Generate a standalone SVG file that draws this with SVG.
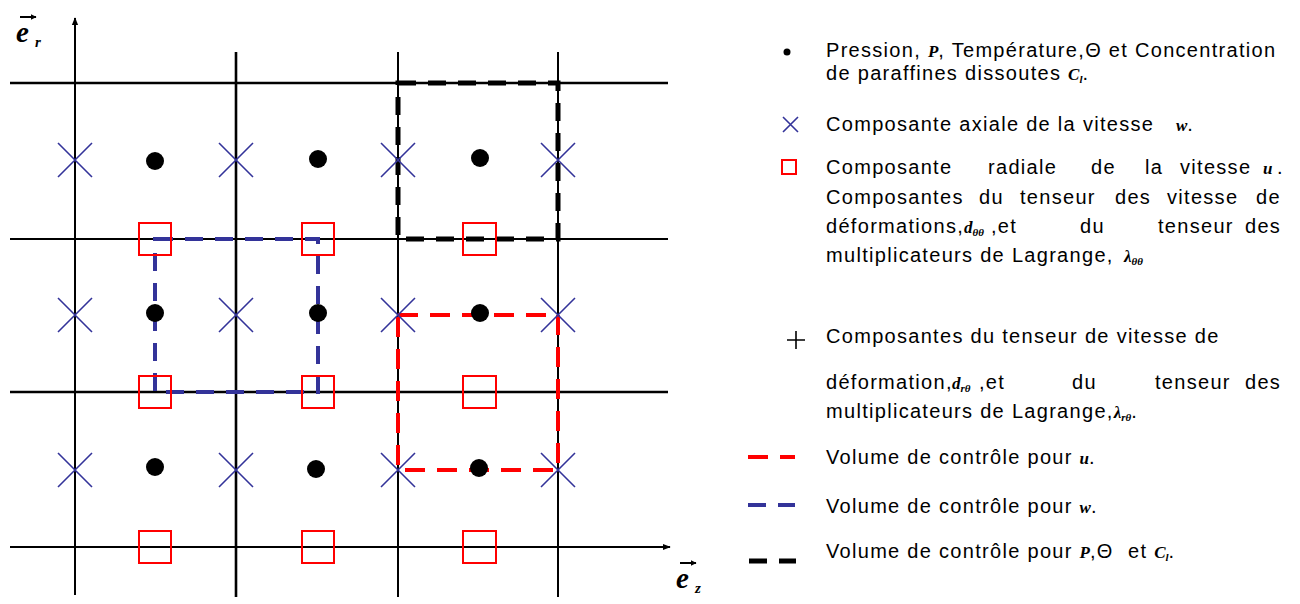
<svg xmlns="http://www.w3.org/2000/svg" width="1300" height="604" viewBox="0 0 1300 604">
<defs>
<style>
.grid{stroke:#000;stroke-width:2;fill:none}
.thick{stroke-width:2.6}
.x{stroke:#333399;stroke-width:1.6;fill:none}
.sq{stroke:#ff0000;stroke-width:2;fill:none}
.dot{fill:#000}
.cvb{stroke:#333399;stroke-width:4;fill:none;stroke-dasharray:18 12}
.cvr{stroke:#ff0000;stroke-width:4;fill:none;stroke-dasharray:20 12}
.cvk{stroke:#000;stroke-width:5;fill:none;stroke-dasharray:18 12}
.t{font-family:"Liberation Sans",Arial,sans-serif;font-size:20px;fill:#000;letter-spacing:1.3px}
.m{font-family:"Liberation Serif","Times New Roman",serif;font-style:italic;font-weight:bold;font-size:17px;letter-spacing:0}
.s{font-size:11px}
.ax{font-family:"Liberation Serif","Times New Roman",serif;font-style:italic;font-weight:bold;fill:#000}
</style>
<marker id="ah" viewBox="0 0 10 10" refX="9" refY="5" markerWidth="8" markerHeight="8" markerUnits="userSpaceOnUse" orient="auto">
<path d="M0,1 L10,5 L0,9 Z" fill="#000"/>
</marker>
<marker id="sah" viewBox="0 0 10 10" refX="9" refY="5" markerWidth="6" markerHeight="6" markerUnits="userSpaceOnUse" orient="auto">
<path d="M0,0 L10,5 L0,10 Z" fill="#000"/>
</marker>
</defs>
<rect width="1300" height="604" fill="#fff"/>

<g id="grid">
<line class="grid" x1="75" y1="595" x2="75" y2="18" marker-end="url(#ah)"/>
<line class="grid thick" x1="236" y1="52" x2="236" y2="597"/>
<line class="grid" x1="398" y1="52" x2="398" y2="597"/>
<line class="grid" x1="558" y1="52" x2="558" y2="597"/>
<line class="grid thick" x1="10" y1="83" x2="668" y2="83"/>
<line class="grid" x1="10" y1="239" x2="668" y2="239"/>
<line class="grid thick" x1="10" y1="392" x2="668" y2="392"/>
<line class="grid" x1="10" y1="547" x2="670" y2="547" marker-end="url(#ah)"/>
</g>

<g id="axis-labels">
<text class="ax" x="16" y="42" font-size="29">e</text>
<text class="ax" x="35" y="47" font-size="15">r</text>
<line x1="20" y1="17" x2="36" y2="17" stroke="#000" stroke-width="2" marker-end="url(#sah)"/>
<text class="ax" x="676" y="588" font-size="29">e</text>
<text class="ax" x="695" y="593" font-size="15">z</text>
<line x1="680" y1="563" x2="696" y2="563" stroke="#000" stroke-width="2" marker-end="url(#sah)"/>
</g>

<g id="control-volumes">
<rect class="cvk" x="398" y="83" width="160" height="156"/>
<rect class="cvb" x="155" y="239" width="163" height="153"/>
<rect class="cvr" x="398" y="315" width="160" height="155"/>
</g>

<g id="pressure-nodes">
<circle class="dot" cx="155" cy="161" r="9"/><circle class="dot" cx="318" cy="159" r="9"/><circle class="dot" cx="480" cy="158" r="9"/>
<circle class="dot" cx="155" cy="313" r="9"/><circle class="dot" cx="318" cy="313" r="9"/><circle class="dot" cx="480" cy="313" r="9"/>
<circle class="dot" cx="155" cy="467" r="9"/><circle class="dot" cx="316" cy="469" r="9"/><circle class="dot" cx="479" cy="468" r="9"/>
</g>

<g id="axial-velocity-nodes">
<path class="x" d="M58,143 L92,177 M92,143 L58,177 M219,143 L253,177 M253,143 L219,177 M381,143 L415,177 M415,143 L381,177 M541,143 L575,177 M575,143 L541,177"/>
<path class="x" d="M58,298 L92,332 M92,298 L58,332 M219,298 L253,332 M253,298 L219,332 M381,298 L415,332 M415,298 L381,332 M541,298 L575,332 M575,298 L541,332"/>
<path class="x" d="M58,453 L92,487 M92,453 L58,487 M219,453 L253,487 M253,453 L219,487 M381,453 L415,487 M415,453 L381,487 M541,453 L575,487 M575,453 L541,487"/>
</g>

<g id="radial-velocity-nodes">
<rect class="sq" x="139" y="223" width="32" height="32"/><rect class="sq" x="302" y="223" width="32" height="32"/><rect class="sq" x="463" y="223" width="33" height="32"/>
<rect class="sq" x="139" y="376" width="32" height="32"/><rect class="sq" x="302" y="376" width="32" height="32"/><rect class="sq" x="463" y="376" width="33" height="32"/>
<rect class="sq" x="139" y="531" width="32" height="32"/><rect class="sq" x="302" y="531" width="32" height="32"/><rect class="sq" x="463" y="531" width="33" height="32"/>
</g>

<g id="legend-pressure">
<circle class="dot" cx="787" cy="52" r="3.5"/>
<text class="t" x="826" y="57">Pression, <tspan class="m">P</tspan>, Température,<tspan>Θ</tspan> et Concentration</text>
<text class="t" x="826" y="80">de paraffines dissoutes <tspan class="m">C</tspan><tspan class="m s" dy="3">l</tspan><tspan dy="-3">.</tspan></text>
</g>

<g id="legend-axial">
<path class="x" d="M783,117 L798,132 M798,117 L783,132"/>
<text class="t" x="826" y="131">Composante axiale de la vitesse<tspan class="m" x="1176">w</tspan>.</text>
</g>

<g id="legend-radial">
<rect class="sq" x="782" y="160" width="14" height="14"/>
<text class="t" y="174"><tspan x="826">Composante</tspan><tspan x="988">radiale</tspan><tspan x="1091">de</tspan><tspan x="1145">la</tspan><tspan x="1180">vitesse</tspan><tspan class="m" x="1263">u</tspan><tspan x="1277">.</tspan></text>
<text class="t" y="204"><tspan x="826">Composantes</tspan><tspan x="979">du</tspan><tspan x="1020">tenseur</tspan><tspan x="1115">des</tspan><tspan x="1167">vitesse</tspan><tspan x="1256">de</tspan></text>
<text class="t" y="233"><tspan x="826">déformations,</tspan><tspan class="m" x="964">d</tspan><tspan class="m s" dy="3">θθ</tspan><tspan x="991" dy="-3">,et</tspan><tspan x="1080">du</tspan><tspan x="1158">tenseur</tspan><tspan x="1245">des</tspan></text>
<text class="t" x="826" y="262">multiplicateurs de Lagrange,<tspan class="m" x="1124">λ</tspan><tspan class="m s" dy="3">θθ</tspan></text>
</g>

<g id="legend-shear">
<path d="M787,340 L805,340 M796,331 L796,349" stroke="#000" stroke-width="1.6" fill="none"/>
<text class="t" x="826" y="343">Composantes du tenseur de vitesse de</text>
<text class="t" y="389"><tspan x="826">déformation,</tspan><tspan class="m" x="952">d</tspan><tspan class="m s" dy="3">rθ</tspan><tspan x="979" dy="-3">,et</tspan><tspan x="1072">du</tspan><tspan x="1155">tenseur</tspan><tspan x="1245">des</tspan></text>
<text class="t" x="826" y="418">multiplicateurs de Lagrange,<tspan class="m">λ</tspan><tspan class="m s" dy="3">rθ</tspan><tspan dy="-3">.</tspan></text>
</g>

<g id="legend-cv-u">
<line class="cvr" x1="748" y1="457" x2="795" y2="457"/>
<text class="t" x="826" y="464">Volume de contrôle pour <tspan class="m">u</tspan>.</text>
</g>
<g id="legend-cv-w">
<line class="cvb" x1="748" y1="505" x2="795" y2="505"/>
<text class="t" x="826" y="513">Volume de contrôle pour <tspan class="m">w</tspan>.</text>
</g>
<g id="legend-cv-p">
<line class="cvk" x1="749" y1="561" x2="796" y2="561"/>
<text class="t" x="826" y="558">Volume de contrôle pour <tspan class="m">P</tspan>,Θ<tspan x="1128">et</tspan> <tspan class="m">C</tspan><tspan class="m s" dy="3">l</tspan><tspan dy="-3">.</tspan></text>
</g>
</svg>
